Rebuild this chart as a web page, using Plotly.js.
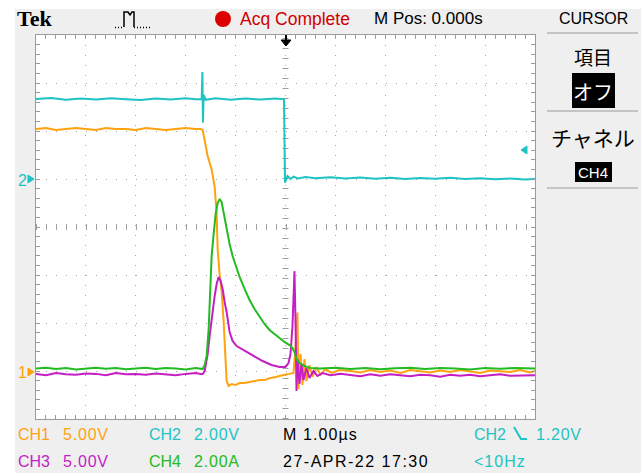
<!DOCTYPE html>
<html>
<head>
<meta charset="utf-8">
<script src="https://cdn.plot.ly/plotly-3.0.1.min.js"></script>
<style>html,body{margin:0;padding:0;background:#fff;}#chart{width:641px;height:476px;}</style>
</head>
<body>
<div id="chart"></div>
<script>
// ---- data: [time in µs, value] ----
const ch1Points = [ // CH1 volts (5 V/div)
[-5.0,25.2],[-4.8,25.3],[-4.6,25.1],[-4.4,25.2],[-4.2,25.3],[-4.0,25.2],[-3.8,25.1],[-3.6,25.3],[-3.4,25.2],[-3.2,25.2],[-3.0,25.1],[-2.8,25.3],[-2.6,25.2],[-2.4,25.1],[-2.2,25.2],[-2.0,25.3],[-1.8,25.2],[-1.7,25.2],
[-1.66,25.1],[-1.62,23.85],[-1.56,22.4],[-1.48,21.0],[-1.42,19.2],[-1.38,16.4],[-1.36,12.7],[-1.32,10.1],[-1.28,8.3],[-1.24,5.2],[-1.22,2.6],[-1.2,0.2],[-1.18,-1.0],[-1.14,-1.55],[-1.08,-1.35],[-1.0,-1.45],[-0.92,-1.25],[-0.82,-1.25],[-0.72,-1.15],[-0.62,-1.05],[-0.52,-0.95],[-0.42,-0.95],[-0.32,-0.75],[-0.22,-0.65],[-0.12,-0.5],[-0.02,-0.4],[0.08,-0.3],[0.16,-0.2],
[0.2,2.3],[0.24,6.1],[0.26,-1.9],[0.30,1.8],[0.34,-1.45],[0.38,1.25],[0.42,-1.05],[0.48,0.6],[0.54,-0.6],[0.62,0.4],[0.70,-0.4],[0.80,0.2],[0.92,-0.2],[1.08,0.1],
[1.3,0.0],[1.5,-0.15],[1.7,0.1],[1.9,-0.1],[2.1,0.05],[2.3,-0.2],[2.5,0.1],[2.7,0.0],[2.9,-0.15],[3.1,0.05],[3.3,-0.1],[3.5,0.1],[3.7,-0.05],[3.9,-0.2],[4.1,0.05],[4.3,0.0],[4.5,-0.1],[4.7,0.1],[4.9,-0.15],[5.0,0.0]
];
const ch2Points = [ // CH2 volts (2 V/div)
[-5.0,3.33],[-4.7,3.37],[-4.4,3.3],[-4.1,3.35],[-3.8,3.31],[-3.5,3.36],[-3.2,3.32],[-2.9,3.29],[-2.6,3.35],[-2.3,3.31],[-2.0,3.36],[-1.8,3.32],[-1.68,3.33],[-1.665,4.46],[-1.655,2.35],[-1.64,3.5],[-1.6,3.3],[-1.4,3.36],[-1.1,3.3],[-0.8,3.35],[-0.5,3.31],[-0.2,3.35],[-0.03,3.32],
[-0.01,-0.15],[0.04,0.12],[0.1,0.0],[0.16,0.1],[0.25,0.02],[0.4,0.08],[0.6,0.03],[0.9,0.07],[1.2,0.02],[1.5,0.06],[1.8,0.01],[2.1,0.05],[2.4,0.0],[2.7,0.04],[3.0,0.01],[3.3,0.05],[3.6,0.0],[3.9,0.03],[4.2,-0.01],[4.5,0.02],[4.8,-0.02],[5.0,0.0]
];
const ch3Points = [ // CH3 volts (5 V/div)
[-5.0,-0.3],[-4.8,-0.45],[-4.6,-0.2],[-4.4,-0.35],[-4.2,-0.4],[-4.0,-0.25],[-3.8,-0.3],[-3.6,-0.45],[-3.4,-0.2],[-3.2,-0.35],[-3.0,-0.3],[-2.8,-0.4],[-2.6,-0.25],[-2.4,-0.35],[-2.2,-0.45],[-2.0,-0.3],[-1.8,-0.2],[-1.7,-0.3],
[-1.66,-0.31],[-1.62,0],[-1.56,1.77],[-1.52,3.65],[-1.46,6.46],[-1.42,7.8],[-1.38,9.06],[-1.34,9.8],[-1.30,9.4],[-1.26,8.54],[-1.22,7.19],[-1.18,6.15],[-1.12,4.06],[-1.06,3.13],[-0.98,2.6],[-0.88,2.29],[-0.78,1.98],[-0.62,1.46],[-0.46,1.04],[-0.28,0.63],[-0.12,0.42],[0,0.42],
[0.06,0.83],[0.10,1.77],[0.14,4.69],[0.16,7.5],[0.18,10.4],[0.20,5.4],[0.22,-2.08],[0.24,1.25],[0.28,-1.35],[0.32,0.73],[0.36,-0.94],[0.42,0.31],[0.48,-0.73],[0.56,0],[0.64,-0.52],[0.74,-0.21],
[0.9,-0.45],[1.1,-0.3],[1.3,-0.4],[1.5,-0.55],[1.7,-0.35],[1.9,-0.5],[2.1,-0.35],[2.3,-0.45],[2.5,-0.55],[2.7,-0.4],[2.9,-0.45],[3.1,-0.6],[3.3,-0.4],[3.5,-0.5],[3.7,-0.4],[3.9,-0.55],[4.1,-0.45],[4.3,-0.35],[4.5,-0.5],[4.7,-0.45],[4.9,-0.4],[5.0,-0.45]
];
const ch4Points = [ // CH4 amps (2 A/div)
[-5.0,0.1],[-4.8,0.14],[-4.6,0.08],[-4.4,0.12],[-4.2,0.06],[-4.0,0.1],[-3.8,0.14],[-3.6,0.09],[-3.4,0.12],[-3.2,0.07],[-3.0,0.11],[-2.8,0.14],[-2.6,0.08],[-2.4,0.12],[-2.2,0.1],[-2.0,0.06],[-1.8,0.12],[-1.7,0.1],
[-1.66,0.08],[-1.62,0.25],[-1.58,0.63],[-1.54,1.75],[-1.50,3.42],[-1.48,4.79],[-1.44,5.71],[-1.40,6.54],[-1.36,7.0],[-1.32,7.17],[-1.28,7.04],[-1.24,6.58],[-1.18,5.88],[-1.12,5.29],[-1.06,4.79],[-1.00,4.38],[-0.92,3.92],[-0.82,3.42],[-0.72,2.96],[-0.62,2.58],[-0.52,2.25],[-0.42,1.96],[-0.32,1.71],[-0.22,1.54],[-0.12,1.38],[-0.02,1.21],[0.08,1.08],[0.14,0.96],[0.18,0.79],[0.22,0.5],[0.28,0.33],[0.38,0.21],[0.48,0.13],
[0.7,0.1],[1.0,0.14],[1.3,0.08],[1.6,0.12],[1.9,0.07],[2.2,0.11],[2.5,0.14],[2.8,0.08],[3.1,0.12],[3.4,0.1],[3.7,0.06],[4.0,0.12],[4.3,0.09],[4.6,0.13],[5.0,0.1]
];
const channelNames = ['CH1','CH2','CH3','CH4'];
const channelScales = ['5.00V','2.00V','5.00V','2.00A'];
const timebase = 'M 1.00\u00b5s';
const triggerText = '1.20V';
const dateText = '27-APR-22 17:30';
const freqText = '<10Hz';

const COL = {ch1:'#ffa20f', ch2:'#1ec3c3', ch3:'#c41ec4', ch4:'#22bb22'};
const W = 641, H = 476;
const X = p => p / W, Y = p => 1 - p / H;
const P = pts => pts.map((q,i)=>(i?'L':'M')+X(q[0]).toFixed(5)+','+Y(q[1]).toFixed(5)).join(' ');
const sp = (t, px) => '<span style="letter-spacing:'+px+'px">'+t+'</span>';

function tr(points, color, yaxis){
  return {type:'scatter', mode:'lines', x:points.map(p=>p[0]), y:points.map(p=>p[1]),
    yaxis:yaxis, line:{color:color, width:2}, hoverinfo:'skip'};
}
const data = [
  tr(ch3Points, COL.ch3, 'y4'),
  tr(ch4Points, COL.ch4, 'y5'),
  tr(ch2Points, COL.ch2, 'y3'),
  tr(ch1Points, COL.ch1, 'y2')
];

const gridCol = '#a4a4a4';
const axBase = {showgrid:true, gridcolor:gridCol, griddash:'1px,9px', gridwidth:1, zeroline:false,
  showline:true, linecolor:'#9a9a9a', linewidth:1, mirror:'allticks', ticks:'inside', ticklen:4,
  tickcolor:'#9a9a9a', showticklabels:false, fixedrange:true, dtick:1, tick0:0,
  minor:{dtick:0.2, ticks:'inside', ticklen:4, tickcolor:'#9a9a9a', showgrid:false}};

const F = 'Liberation Sans, Arial, sans-serif';
function ann(text, x, y, color, size, opts){
  return Object.assign({text:text, x:X(x), y:Y(y), xref:'paper', yref:'paper', xanchor:'left', yanchor:'middle',
    showarrow:false, font:{family:F, size:size||16, color:color||'#000'}}, opts||{});
}
const annotations = [
  ann('Tek', 15, 19, '#000', 21, {font:{family:'Liberation Serif, serif', size:22, color:'#000', weight:'bold'}}),
  ann('Acq Complete', 238, 19, '#d00000', 17.5),
  ann('M Pos: 0.000s', 372, 19, '#000', 17),
  ann('CURSOR', 593, 19, '#000', 16, {xanchor:'center'}),
  ann('項目', 593, 56, '#000', 19, {xanchor:'center', font:{family:'Noto Sans CJK JP', size:19, color:'#000'}}),
  ann('オフ', 593, 91, '#fff', 20, {xanchor:'center', font:{family:'Noto Sans CJK JP', size:20, color:'#fff'}}),
  ann('チャネル', 593, 137, '#000', 21, {xanchor:'center', font:{family:'Noto Sans CJK JP', size:21, color:'#000'}}),
  ann(channelNames[3], 593, 172, '#fff', 15, {xanchor:'center'}),
  ann(channelNames[0], 16, 434, COL.ch1, 16), ann(sp(channelScales[0],0.8), 61, 434, COL.ch1, 16),
  ann(channelNames[1], 147, 434, COL.ch2, 16), ann(sp(channelScales[1],0.8), 192, 434, COL.ch2, 16),
  ann(sp(timebase,1.1), 281, 434, '#000', 16),
  ann(channelNames[1], 472, 434, COL.ch2, 16), ann(sp(triggerText,0.8), 534, 434, COL.ch2, 16),
  ann(channelNames[2], 16, 461, COL.ch3, 16), ann(sp(channelScales[2],0.8), 61, 461, COL.ch3, 16),
  ann(channelNames[3], 147, 461, COL.ch4, 16), ann(sp(channelScales[3],0.8), 192, 461, COL.ch4, 16),
  ann(sp(dateText,1.5), 281, 461, '#000', 16),
  ann(sp(freqText,1), 472, 461, COL.ch2, 16),
  ann('2', 16, 180, COL.ch2, 16),
  ann('1', 16, 372, COL.ch1, 16)
];

function rectP(x0,y0,x1,y1,fill,extra){
  return Object.assign({type:'rect', xref:'paper', yref:'paper', x0:X(x0), x1:X(x1), y0:Y(y0), y1:Y(y1),
    fillcolor:fill, line:{width:0}}, extra||{});
}
function lineP(x0,y0,x1,y1,color,w){
  return {type:'line', xref:'paper', yref:'paper', x0:X(x0), x1:X(x1), y0:Y(y0), y1:Y(y1), line:{color:color, width:w||1}};
}
function pathP(pts, fill, color, w, close, dash){
  return {type:'path', xref:'paper', yref:'paper', path:P(pts)+(close?' Z':''), fillcolor:fill||'rgba(0,0,0,0)',
    line:{color:color||'rgba(0,0,0,0)', width:w||0, dash:dash||'solid'}};
}
const shapes = [
  // white outer margins
  rectP(0,0,15,476,'#ffffff'), rectP(0,0,641,9,'#ffffff'), rectP(0,473,641,476,'#ffffff'),
  // centre cross with tick marks
  {type:'line', xref:'x', yref:'y', x0:0, x1:0, y0:-4, y1:4, layer:'below', line:{color:'#a0a0a0', width:6, dash:'1px,9px'}},
  {type:'line', xref:'x', yref:'y', x0:-5, x1:5, y0:0, y1:0, layer:'below', line:{color:'#a0a0a0', width:6, dash:'1px,9px'}},
  // right panel separators
  lineP(547,33,638,33,'#c4c4c4',2), lineP(547,111,638,111,'#c4c4c4',2), lineP(547,188,638,188,'#c4c4c4',2),
  // black boxes
  rectP(572,73,615,108,'#000'), rectP(575,162,612,182,'#000'),
  // red acquisition dot
  {type:'circle', xref:'paper', yref:'paper', x0:X(215), x1:X(231), y0:Y(27), y1:Y(11), fillcolor:'#dd0000', line:{width:0}},
  // acquisition icon
  pathP([[124,27],[124,12],[128,12],[130,15],[132,12],[134,12],[134,27]], null, '#000', 1.5),
  pathP([[115,27.5],[124,27.5]], null, '#000', 1.5, false, '1px,2px'),
  pathP([[134,27.5],[150,27.5]], null, '#000', 1.5, false, '1px,2px'),
  // trigger position marker
  lineP(286,35,286,41,'#000',2),
  pathP([[281,40],[291,40],[286,46]], '#000', '#000', 1, true),
  // channel ground markers
  pathP([[28,175],[34,179],[28,183]], COL.ch2, COL.ch2, 1, true),
  pathP([[28,368],[34,372],[28,376]], COL.ch1, COL.ch1, 1, true),
  // trigger level marker
  pathP([[527,146],[521,150],[527,154]], COL.ch2, COL.ch2, 1, true),
  // falling edge symbol
  pathP([[514,427],[521,439],[527,439]], null, COL.ch2, 2)
];

const layout = {
  width:W, height:H, margin:{l:0,r:0,t:0,b:0,pad:0}, paper_bgcolor:'#efefef', plot_bgcolor:'#ffffff',
  showlegend:false, hovermode:false,
  xaxis:Object.assign({}, axBase, {domain:[X(36), X(535)], range:[-5,5]}),
  yaxis:Object.assign({}, axBase, {domain:[Y(419), Y(35)], range:[-4,4]}),
  yaxis2:{overlaying:'y', range:[-5,35], visible:false, fixedrange:true},
  yaxis3:{overlaying:'y', range:[-10,6], visible:false, fixedrange:true},
  yaxis4:{overlaying:'y', range:[-5,35], visible:false, fixedrange:true},
  yaxis5:{overlaying:'y', range:[-2,14], visible:false, fixedrange:true},
  annotations:annotations, shapes:shapes
};
Plotly.newPlot('chart', data, layout, {staticPlot:true, displayModeBar:false});
</script>
</body>
</html>
